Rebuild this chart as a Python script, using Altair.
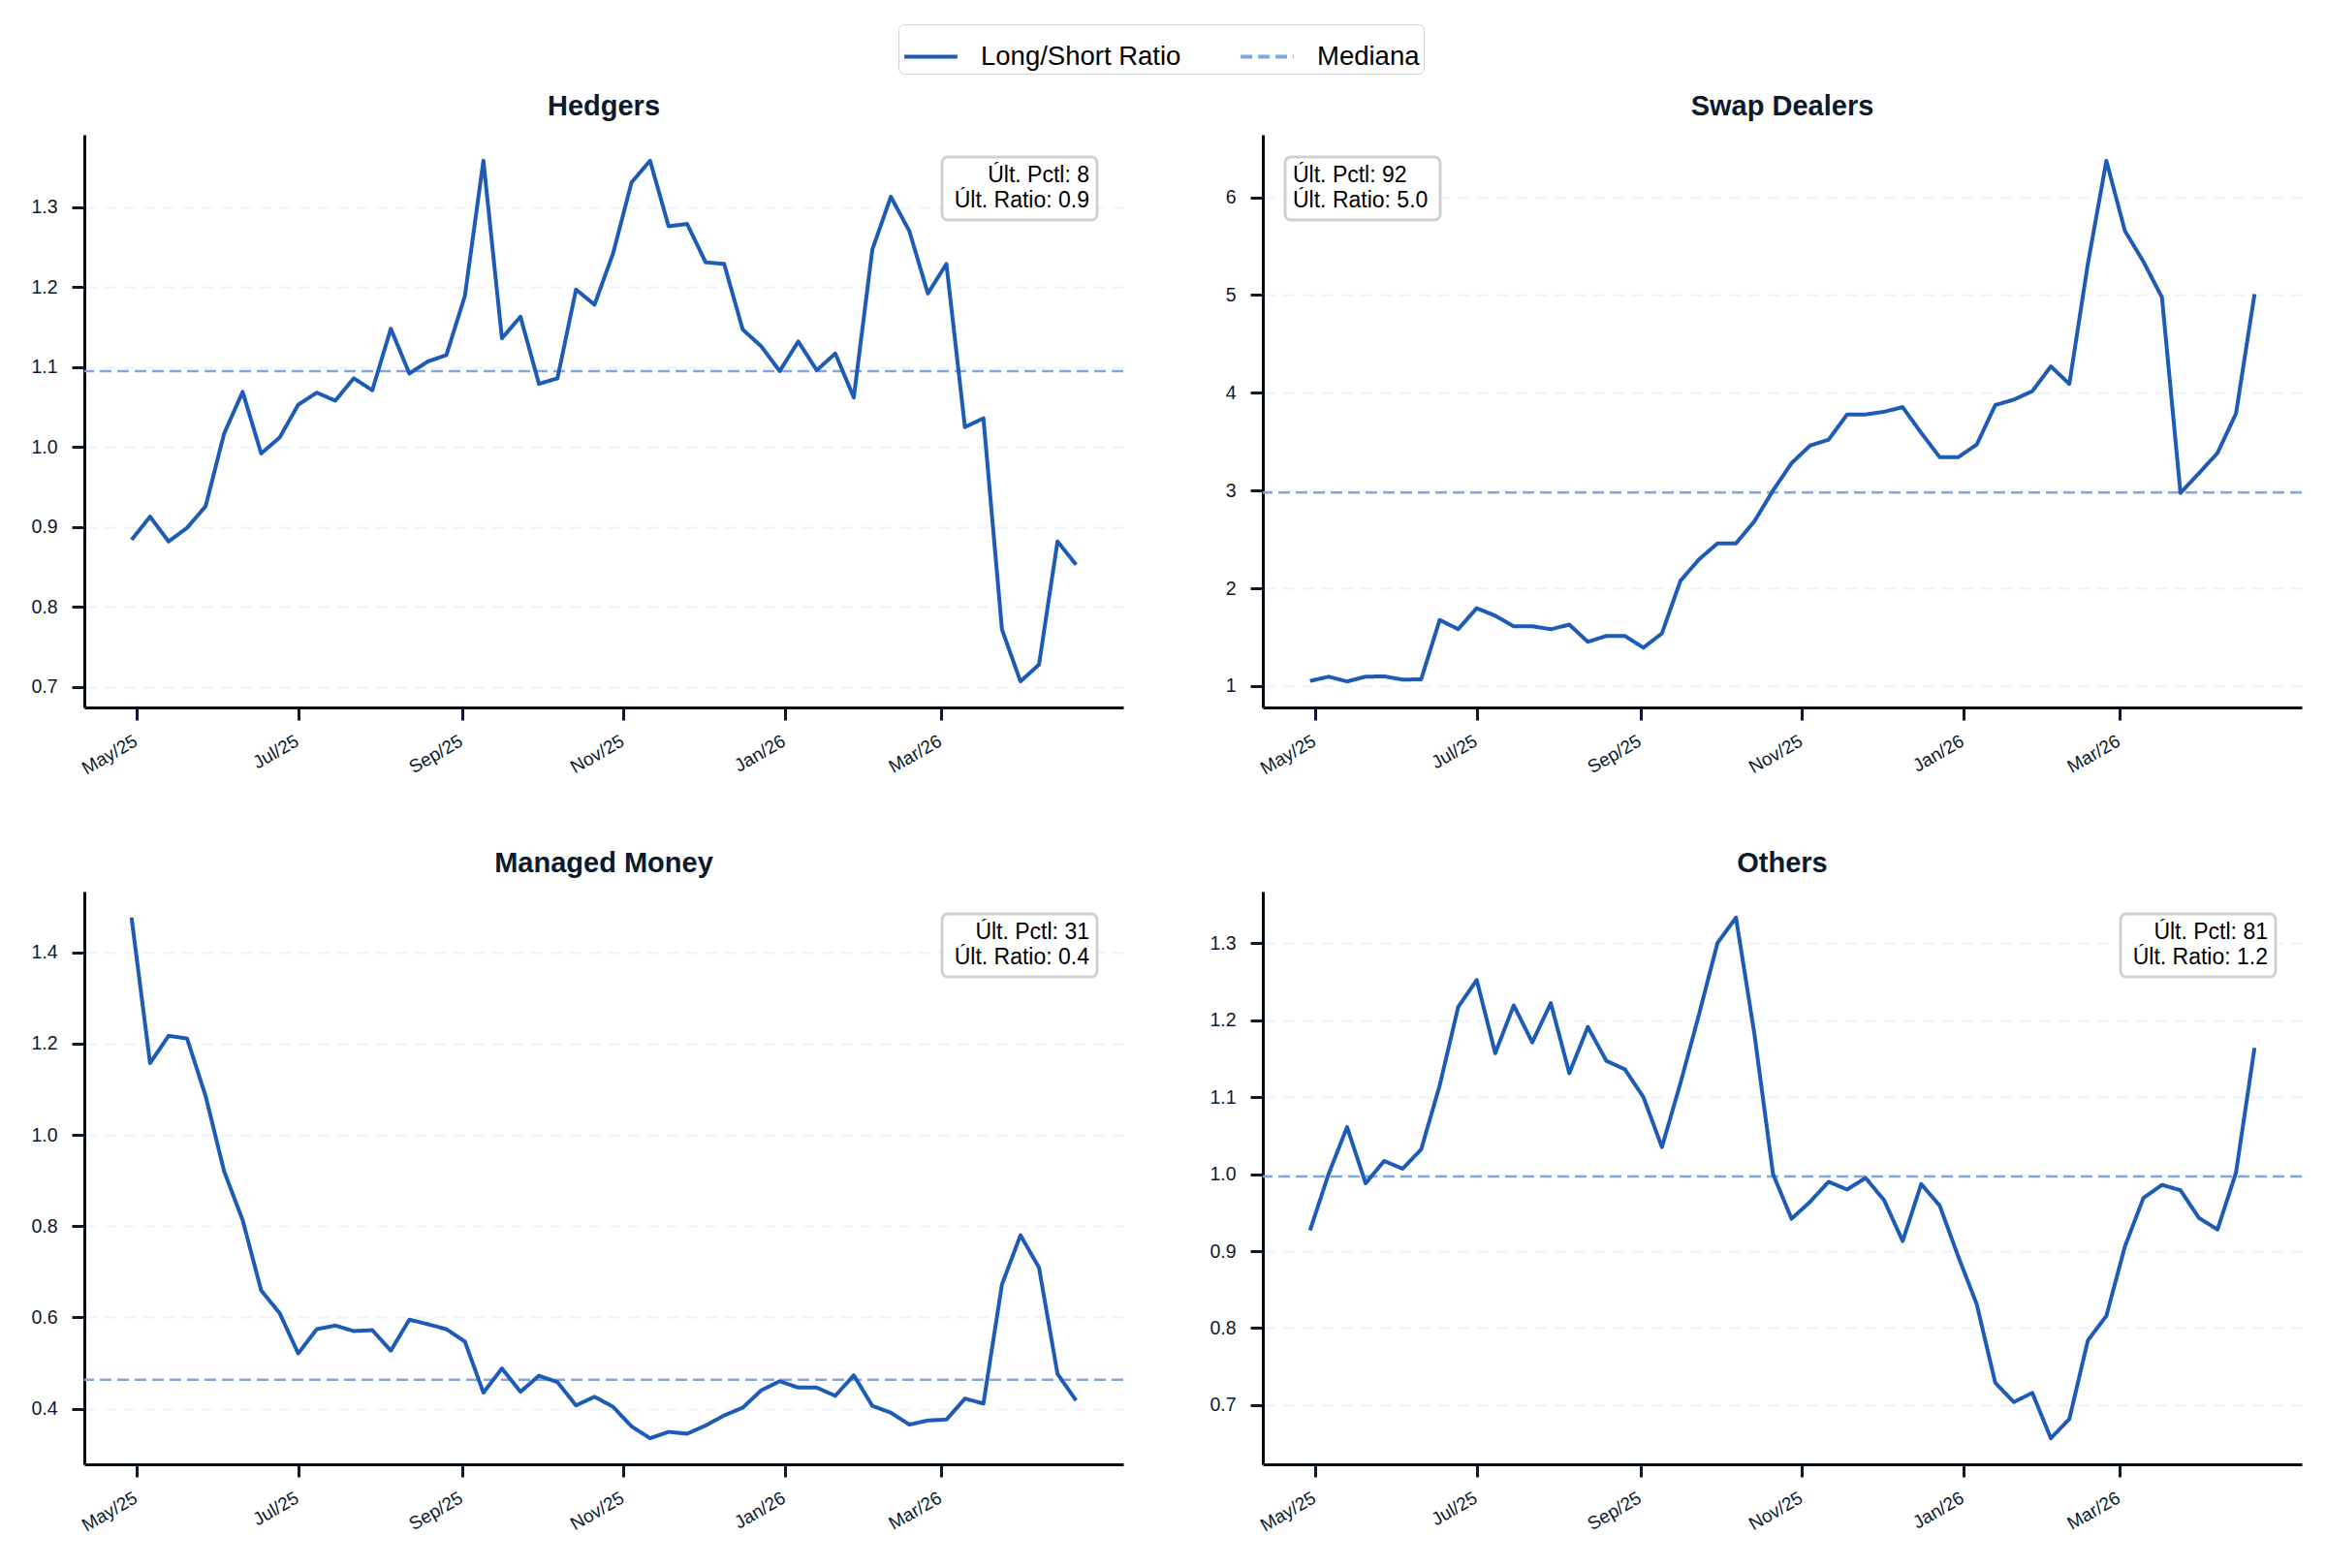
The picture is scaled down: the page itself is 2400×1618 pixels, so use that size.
import altair as alt
import pandas as pd

# ---------------- data ----------------
first_date = "2025-04-29"
n_weeks = 52
dates = pd.date_range(first_date, periods=n_weeks, freq="7D")
date_strs = [d.strftime("%Y-%m-%d") for d in dates]

panel_names = ["Hedgers", "Swap Dealers", "Managed Money", "Others"]

hedgers = [0.884, 0.913, 0.882, 0.899, 0.926, 1.017, 1.069, 0.992, 1.012, 1.053,
           1.068, 1.058, 1.086, 1.071, 1.148, 1.092, 1.107, 1.115, 1.189, 1.358,
           1.136, 1.163, 1.079, 1.086, 1.197, 1.178, 1.242, 1.331, 1.358, 1.276,
           1.279, 1.231, 1.229, 1.147, 1.126, 1.095, 1.132, 1.096, 1.117, 1.062,
           1.247, 1.313, 1.270, 1.192, 1.229, 1.025, 1.036, 0.772, 0.707, 0.728,
           0.882, 0.853]
swap_dealers = [1.052, 1.095, 1.047, 1.095, 1.099, 1.065, 1.069, 1.676, 1.581, 1.796,
                1.719, 1.611, 1.611, 1.581, 1.628, 1.452, 1.512, 1.512, 1.392, 1.538,
                2.076, 2.295, 2.459, 2.459, 2.687, 3.000, 3.280, 3.460, 3.520, 3.778,
                3.778, 3.806, 3.853, 3.590, 3.341, 3.341, 3.470, 3.874, 3.930, 4.016,
                4.270, 4.090, 5.320, 6.374, 5.656, 5.342, 4.976, 2.975, 3.177, 3.384,
                3.788, 5.010]
managed_money = [1.476, 1.157, 1.217, 1.211, 1.085, 0.920, 0.813, 0.659, 0.609, 0.521,
                 0.574, 0.582, 0.570, 0.572, 0.527, 0.595, 0.585, 0.574, 0.547, 0.435,
                 0.488, 0.437, 0.472, 0.458, 0.407, 0.426, 0.404, 0.361, 0.335, 0.349,
                 0.345, 0.363, 0.385, 0.402, 0.440, 0.460, 0.446, 0.446, 0.428, 0.473,
                 0.406, 0.391, 0.365, 0.374, 0.376, 0.422, 0.411, 0.672, 0.780, 0.709,
                 0.476, 0.418]
others = [0.927, 1.000, 1.061, 0.988, 1.017, 1.007, 1.032, 1.115, 1.217, 1.252,
          1.157, 1.219, 1.171, 1.222, 1.131, 1.191, 1.147, 1.136, 1.100, 1.035,
          1.118, 1.207, 1.300, 1.333, 1.181, 1.000, 0.942, 0.964, 0.990, 0.980,
          0.995, 0.966, 0.913, 0.987, 0.959, 0.893, 0.831, 0.729, 0.704, 0.716,
          0.657, 0.682, 0.784, 0.816, 0.906, 0.969, 0.986, 0.979, 0.943, 0.928,
          1.002, 1.164]

medians = [1.095, 2.98, 0.463, 0.997]
last_pctl = [8, 92, 31, 81]
last_ratio = ["0.9", "5.0", "0.4", "1.2"]

y_tick_values = [
    [0.7, 0.8, 0.9, 1.0, 1.1, 1.2, 1.3],
    [1, 2, 3, 4, 5, 6],
    [0.4, 0.6, 0.8, 1.0, 1.2, 1.4],
    [0.7, 0.8, 0.9, 1.0, 1.1, 1.2, 1.3],
]
y_formats = [".1f", "d", ".1f", ".1f"]
box_sides = ["right", "left", "right", "right"]

series_names = ["Long/Short Ratio", "Mediana"]
x_tick_months = [(2025, 5), (2025, 7), (2025, 9), (2025, 11), (2026, 1), (2026, 3)]

# ---------------- style ----------------
FONT = "Liberation Sans"
LINE_COLOR = "#1d5bb6"
MED_COLOR = "#84a6dc"
GRID_COLOR = "#edf3fc"
TEXT_COLOR = "#0d1a2e"
AXIS_COLOR = "#05080f"
W, H = 1072, 591

start = pd.Timestamp(first_date, tz="UTC")
end = start + pd.Timedelta(weeks=n_weeks - 1)
pad_t = (end - start) * 0.05
x_domain = [int((start - pad_t).value // 10**6), int((end + pad_t).value // 10**6)]
x_ticks = [alt.DateTime(year=y, month=m, date=1, utc=True) for y, m in x_tick_months]

color_scale = alt.Scale(domain=series_names, range=[LINE_COLOR, MED_COLOR])
dash_scale = alt.Scale(domain=series_names, range=[[1, 0], [12, 6]])
legend = alt.Legend(
    orient="none", legendX=840, legendY=-114, direction="horizontal", columns=2,
    title=None, labelFontSize=27.5, labelFont=FONT, labelColor="black", labelLimit=500,
    symbolType="stroke", symbolSize=3000, symbolStrokeWidth=4,
    strokeColor="#d2d2d2", fillColor="white", padding=4, cornerRadius=6,
    columnPadding=53, labelOffset=22,
)


def panel(i, values):
    df = pd.DataFrame({"date": date_strs, "value": values, "serie": series_names[0]})
    med_df = pd.DataFrame({"median": [medians[i]], "serie": [series_names[1]]})
    lo, hi = min(values), max(values)
    pad = 0.05 * (hi - lo)
    y_scale = alt.Scale(domain=[lo - pad, hi + pad], nice=False, zero=False)
    common = dict(domainColor=AXIS_COLOR, domainWidth=3, tickColor=TEXT_COLOR,
                  tickWidth=3, tickSize=13, labelColor=TEXT_COLOR, labelFont=FONT)
    y_axis = alt.Axis(values=y_tick_values[i], format=y_formats[i], title=None,
                      grid=True, gridColor=GRID_COLOR, gridDash=[12, 8], gridWidth=2,
                      labelPadding=15, labelFontSize=19.5, **common)
    x_axis = alt.Axis(values=x_ticks, format="%b/%y", title=None, grid=False,
                      labelAngle=330, labelAlign="right", labelBaseline="top",
                      labelFontSize=19, labelPadding=12, labelOffset=-6, **common)
    color = alt.Color("serie:N", scale=color_scale, legend=legend)
    dash = alt.StrokeDash("serie:N", scale=dash_scale, legend=legend)

    line = alt.Chart(df).mark_line(strokeWidth=4, strokeJoin="round").encode(
        x=alt.X("date:T", scale=alt.Scale(type="utc", domain=x_domain), axis=x_axis),
        y=alt.Y("value:Q", scale=y_scale, axis=y_axis),
        color=color, strokeDash=dash,
    )
    med = alt.Chart(med_df).mark_rule(strokeWidth=2.5).encode(
        y=alt.Y("median:Q", scale=y_scale, axis=y_axis),
        color=color, strokeDash=dash,
    )
    label = f"Últ. Pctl: {last_pctl[i]}\nÚlt. Ratio: {last_ratio[i]}"
    ann_df = pd.DataFrame({"label": [label]})
    if box_sides[i] == "right":
        bx0, bx1, tx, talign = W - 187, W - 27, W - 35, "right"
    else:
        bx0, bx1, tx, talign = 23, 183, 31, "left"
    box = alt.Chart(ann_df).mark_rect(
        cornerRadius=6, fill="white", stroke="#d0d0d0", strokeWidth=3
    ).encode(x=alt.value(bx0), x2=alt.value(bx1), y=alt.value(23), y2=alt.value(88))
    txt = alt.Chart(ann_df).mark_text(
        align=talign, baseline="top", lineBreak="\n", fontSize=23, lineHeight=25.5,
        font=FONT, color="black"
    ).encode(x=alt.value(tx), y=alt.value(31), text="label:N")

    return alt.layer(med, line, box, txt).properties(
        width=W, height=H,
        title=alt.TitleParams(text=panel_names[i], fontSize=29, fontWeight="bold",
                              color=TEXT_COLOR, font=FONT, offset=14),
    )


panels = [panel(i, v) for i, v in enumerate([hedgers, swap_dealers, managed_money, others])]

chart = alt.concat(*panels, columns=2, spacing={"row": 190, "column": 144}).properties(
    bounds="flush",
    padding={"left": 31, "top": 24, "right": 5, "bottom": 5},
    background="white",
).resolve_scale(
    x="independent", y="independent", color="shared", strokeDash="shared"
).configure(font=FONT).configure_view(strokeWidth=0, stroke="transparent")

chart.save("out.html", embed_options={"renderer": "svg", "actions": False})
